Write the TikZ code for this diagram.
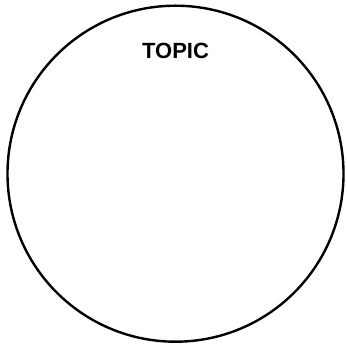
\documentclass[tikz,border=0pt]{standalone}
\usepackage{fontspec}
\setmainfont{Liberation Sans}
\usepackage{tikz}
\usetikzlibrary{positioning}

\begin{document}
\begin{tikzpicture}[
      x=1pt,y=1pt,
      topicring/.style={circle,draw=black,line width=2.4pt,minimum size=336pt,inner sep=0pt},
      topiclabel/.style={font=\fontsize{22}{26}\selectfont\bfseries,inner sep=0pt}
    ]
    \useasboundingbox (0,0) rectangle (347,344);
    \node[topicring] (topic) at (175.5,170.3) {};
    \node[topiclabel,below=38pt of topic.north] (topictext) {TOPIC};
  \end{tikzpicture}
\end{document}
